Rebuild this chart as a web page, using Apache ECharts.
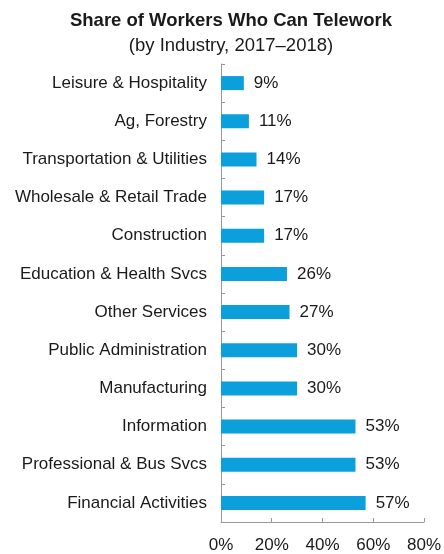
<!DOCTYPE html>
<html>
<head>
<meta charset="utf-8">
<script src="https://cdn.jsdelivr.net/npm/echarts@6/dist/echarts.min.js"></script>
<style>
  html, body { margin: 0; padding: 0; background: #fff; }
  #chart { width: 444px; height: 554px; }
</style>
</head>
<body>
<div id="chart"></div>
<script>
// data
var industries = [
  'Leisure & Hospitality',
  'Ag, Forestry',
  'Transportation & Utilities',
  'Wholesale & Retail Trade',
  'Construction',
  'Education & Health Svcs',
  'Other Services',
  'Public Administration',
  'Manufacturing',
  'Information',
  'Professional & Bus Svcs',
  'Financial Activities'
];
var shares = [9, 11, 14, 17, 17, 26, 27, 30, 30, 53, 53, 57];
var xTicks = [0, 20, 40, 60, 80];

var font = 'Liberation Sans, Arial, sans-serif';

var chart = echarts.init(document.getElementById('chart'));
chart.setOption({
  animation: false,
  title: [
    {
      text: 'Share of Workers Who Can Telework',
      left: 226,
      top: 6,
      textAlign: 'center',
      textStyle: { fontFamily: font, fontSize: 18.5, fontWeight: 'bold', color: '#1a1a1a' }
    },
    {
      text: '(by Industry, 2017\u20132018)',
      left: 226,
      top: 31,
      textAlign: 'center',
      textStyle: { fontFamily: font, fontSize: 18.5, fontWeight: 'normal', color: '#1a1a1a' }
    }
  ],
  grid: { left: 221, right: 17, top: 64, bottom: 32, containLabel: false },
  xAxis: {
    type: 'value',
    min: xTicks[0],
    max: xTicks[xTicks.length - 1],
    interval: 20,
    axisLine: { show: true, lineStyle: { color: '#999', width: 1 } },
    axisTick: { show: true, inside: true, length: 4, lineStyle: { color: '#999' } },
    splitLine: { show: false },
    axisLabel: {
      formatter: '{value}%',
      margin: 15,
      fontFamily: font,
      fontSize: 17,
      color: '#1a1a1a'
    }
  },
  yAxis: {
    type: 'category',
    inverse: true,
    data: industries,
    axisLine: { show: true, lineStyle: { color: '#999', width: 1 } },
    axisTick: { show: true, inside: true, length: 4, lineStyle: { color: '#999' } },
    axisLabel: { margin: 14, fontFamily: font, fontSize: 17, color: '#1a1a1a' }
  },
  series: [{
    type: 'bar',
    data: shares,
    barWidth: 14,
    itemStyle: { color: '#0ba0db' },
    label: {
      show: true,
      position: 'right',
      distance: 10,
      formatter: '{c}%',
      fontFamily: font,
      fontSize: 17,
      color: '#1a1a1a'
    }
  }]
});
</script>
</body>
</html>
